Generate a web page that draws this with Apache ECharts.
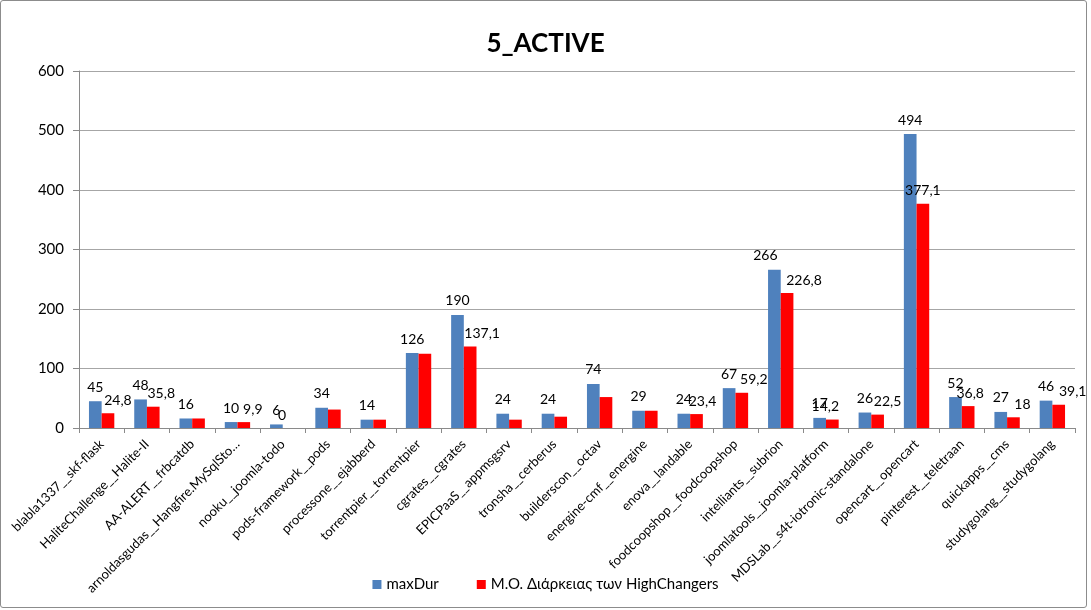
<!DOCTYPE html>
<html>
<head>
<meta charset="utf-8">
<script src="https://cdn.jsdelivr.net/npm/echarts@6/dist/echarts.min.js"></script>
<style>
  html, body { margin: 0; padding: 0; background: #fff; }
  #frame { position: absolute; left: 0; top: 0; width: 1085px; height: 606px; border: 1px solid #8c8c8c; border-radius: 3px; }
  #chart { position: absolute; left: 0; top: 0; width: 1091px; height: 610px; }
</style>
</head>
<body>
<div id="frame"></div>
<div id="chart"></div>
<script>
// Project names (category axis)
const categories = [
  'blabla1337__skf-flask',
  'HaliteChallenge__Halite-II',
  'AA-ALERT__frbcatdb',
  'arnoldasgudas__Hangfire.MySqlSto…',
  'nooku__joomla-todo',
  'pods-framework__pods',
  'processone__ejabberd',
  'torrentpier__torrentpier',
  'cgrates__cgrates',
  'EPICPaaS__appmsgsrv',
  'tronsha__cerberus',
  'builderscon__octav',
  'energine-cmf__energine',
  'enova__landable',
  'foodcoopshop__foodcoopshop',
  'intelliants__subrion',
  'joomlatools__joomla-platform',
  'MDSLab__s4t-iotronic-standalone',
  'opencart__opencart',
  'pinterest__teletraan',
  'quickapps__cms',
  'studygolang__studygolang'
];

// maxDur per project
const maxDur = [45, 48, 16, 10, 6, 34, 14, 126, 190, 24, 24, 74, 29, 24, 67, 266, 17, 26, 494, 52, 27, 46];

// average duration of the high changers per project
const avgHighChangers = [24.8, 35.8, 16, 9.9, 0, 31, 14, 125, 137.1, 14, 19, 52, 29, 23.4, 59.2, 226.8, 14.2, 22.5, 377.1, 36.8, 18, 39.1];

// which average values carry a printed label
const avgLabelShown = [true, true, false, true, true, false, false, false, true, false, false, false, false, true, true, true, true, true, true, true, true, true];

const yTicks = { min: 0, max: 600, interval: 100 };

const seriesNames = ['maxDur', 'Μ.Ο. Διάρκειας των HighChangers'];

// horizontal nudges so neighbouring value labels do not collide
const blueLabelShift = { 15: -9 };
const redLabelShift = { 0: 10, 1: 8, 3: 9, 4: -7, 8: 12, 13: 6, 14: 12, 15: 17, 16: -7, 17: 10, 18: 0, 19: 2, 20: 9, 21: 14 };

const FONT = 'Lato, "Noto Sans", sans-serif';
const AXIS_GREY = '#8a8a8a';

const chart = echarts.init(document.getElementById('chart'), null, { renderer: 'canvas' });

chart.setOption({
  backgroundColor: 'transparent',
  animation: false,
  textStyle: { fontFamily: FONT, color: '#000' },
  title: {
    text: '5_ACTIVE',
    left: 'center',
    top: 26,
    textStyle: { fontFamily: FONT, fontSize: 26, fontWeight: 'bold', color: '#000' }
  },
  legend: {
    bottom: 13,
    left: 'center',
    itemWidth: 9,
    itemHeight: 9,
    itemGap: 38,
    icon: 'rect',
    textStyle: { fontFamily: FONT, fontSize: 15, color: '#000' },
    data: seriesNames
  },
  grid: { left: 79, right: 16, top: 71, bottom: 182, containLabel: false },
  xAxis: {
    type: 'category',
    data: categories,
    axisLine: { lineStyle: { color: AXIS_GREY } },
    axisTick: { show: true, alignWithLabel: false, length: 5, lineStyle: { color: AXIS_GREY } },
    axisLabel: {
      interval: 0,
      rotate: 45,
      fontFamily: FONT,
      fontSize: 13,
      color: '#000',
      margin: 14
    }
  },
  yAxis: {
    type: 'value',
    min: yTicks.min,
    max: yTicks.max,
    interval: yTicks.interval,
    axisLine: { show: true, lineStyle: { color: AXIS_GREY } },
    axisTick: { show: true, length: 6, lineStyle: { color: AXIS_GREY } },
    axisLabel: { fontFamily: FONT, fontSize: 15, color: '#000', margin: 15 },
    splitLine: { lineStyle: { color: '#a6a6a6', width: 1 } }
  },
  series: [
    {
      name: seriesNames[0],
      type: 'bar',
      data: maxDur.map((v, i) => ({
        value: v,
        label: { offset: [blueLabelShift[i] || 0, 0] }
      })),
      barGap: '0%',
      barCategoryGap: '44%',
      itemStyle: { color: '#4F81BD' },
      label: {
        show: true,
        position: 'top',
        distance: 7,
        fontFamily: FONT,
        fontSize: 14,
        color: '#000'
      }
    },
    {
      name: seriesNames[1],
      type: 'bar',
      data: avgHighChangers.map((v, i) => ({
        value: v,
        label: { show: avgLabelShown[i], offset: [redLabelShift[i] || 0, 0] }
      })),
      itemStyle: { color: '#FF0000' },
      label: {
        show: true,
        position: 'top',
        distance: 6,
        fontFamily: FONT,
        fontSize: 14,
        color: '#000',
        formatter: p => String(p.value).replace('.', ',')
      }
    }
  ]
});
</script>
</body>
</html>
